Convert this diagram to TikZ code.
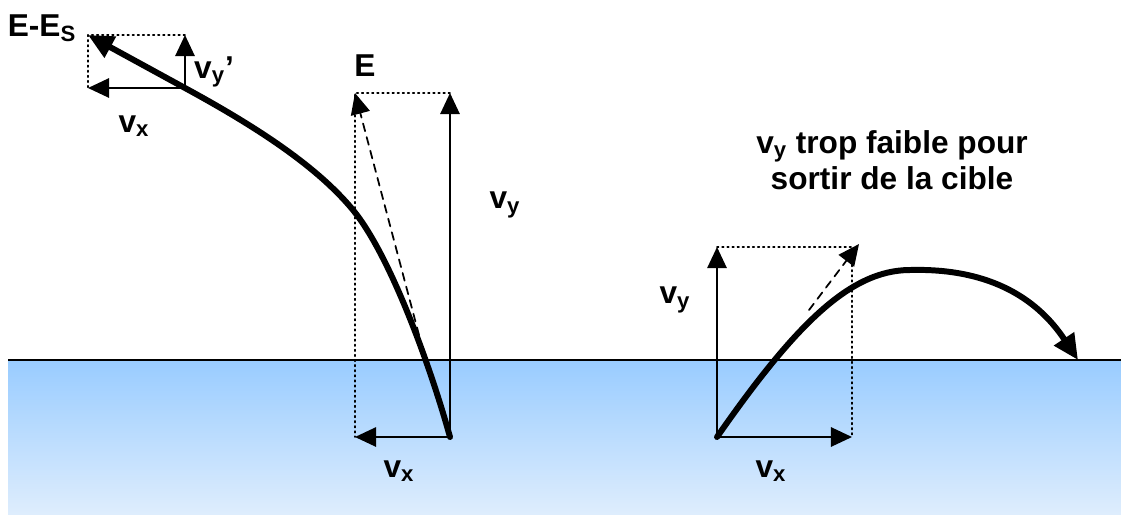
\documentclass[tikz,border=0pt]{standalone}
\usepackage{fontspec}
\setmainfont{Liberation Sans}
\usepackage{xcolor}
\usetikzlibrary{arrows.meta}
\definecolor{waterTop}{HTML}{99CCFF}
\definecolor{waterBottom}{HTML}{DEEDFD}
\tikzset{
  every picture/.append style={line cap=round,line join=round},
  proj track/.style={line width=3.4pt,-{Triangle[length=14.5pt,width=13pt]}},
  proj vector/.style={line width=1.1pt,-{Triangle[length=12pt,width=11pt]}},
  proj guide/.style={line width=0.9pt,dotted},
  proj tangent/.style={line width=1pt,dash pattern=on 4.5pt off 3.5pt,-{Triangle[length=12pt,width=11pt]}},
  proj label/.style={font=\fontsize{18}{20.5}\selectfont\bfseries,inner sep=0pt,align=center}
}

\begin{document}
\begin{tikzpicture}[x=0.02cm,y=-0.02cm]
  \useasboundingbox (0,0) rectangle (1121,514);
  \shade[top color=waterTop,bottom color=waterBottom] (8,360) rectangle (1121,514);
  \draw[line width=1.2pt,line cap=butt] (8,360) -- (1121,360);

  \coordinate (exit) at (450,437);
  \coordinate (exitY) at (450,93);
  \coordinate (exitX) at (355,437);
  \coordinate (exitE) at (355,93);
  \coordinate (exitT) at (419,335);
  \coordinate (bend) at (353,210);
  \coordinate (top) at (185,88);
  \coordinate (topY) at (185,35);
  \coordinate (topX) at (88,88);
  \coordinate (topE) at (88,35);

  \draw[proj guide] (exitY) -- (exitE) -- (exitX);
  \draw[proj guide] (topY) -- (topE) -- (topX);
  \draw[proj vector] (exit) -- (exitY);
  \draw[proj vector] (exit) -- (exitX);
  \draw[proj vector] (top) -- (topY);
  \draw[proj vector] (top) -- (topX);
  \draw[proj tangent] (exitT) -- (exitE);
  \draw[proj track] (exit) .. controls (430,365) and (390,255) .. (bend)
    .. controls (316,165) and (253,125) .. (top) -- (topE);

  \coordinate (entry) at (717,437);
  \coordinate (entryY) at (717,247);
  \coordinate (entryX) at (852,437);
  \coordinate (entryE) at (852,247);
  \coordinate (entryT) at (809,310);
  \coordinate (entryV) at (859,244);
  \coordinate (peak) at (910,270);
  \coordinate (land) at (1078,360);

  \draw[proj guide] (entryY) -- (entryE) -- (entryX);
  \draw[proj vector] (entry) -- (entryY);
  \draw[proj vector] (entry) -- (entryX);
  \draw[proj tangent] (entryT) -- (entryV);
  \draw[proj track] (entry) .. controls (795,325) and (850,270) .. (peak)
    .. controls (985,268) and (1035,295) .. (land);

  \node[proj label] (lblES) at (42,28) {E-E\textsubscript{S}};
  \node[proj label] (lblVyTop) at (214,72) {v\textsubscript{y}'};
  \node[proj label] (lblVxTop) at (134,126) {v\textsubscript{x}};
  \node[proj label] (lblE) at (365,66) {E};
  \node[proj label] (lblVyExit) at (505,205) {v\textsubscript{y}};
  \node[proj label] (lblVxExit) at (399,471) {v\textsubscript{x}};
  \node[proj label] (lblVyEntry) at (675,300) {v\textsubscript{y}};
  \node[proj label] (lblVxEntry) at (771,471) {v\textsubscript{x}};
  \node[proj label] (note) at (892,160) {v\textsubscript{y} trop faible pour\\sortir de la cible};
\end{tikzpicture}
\end{document}
